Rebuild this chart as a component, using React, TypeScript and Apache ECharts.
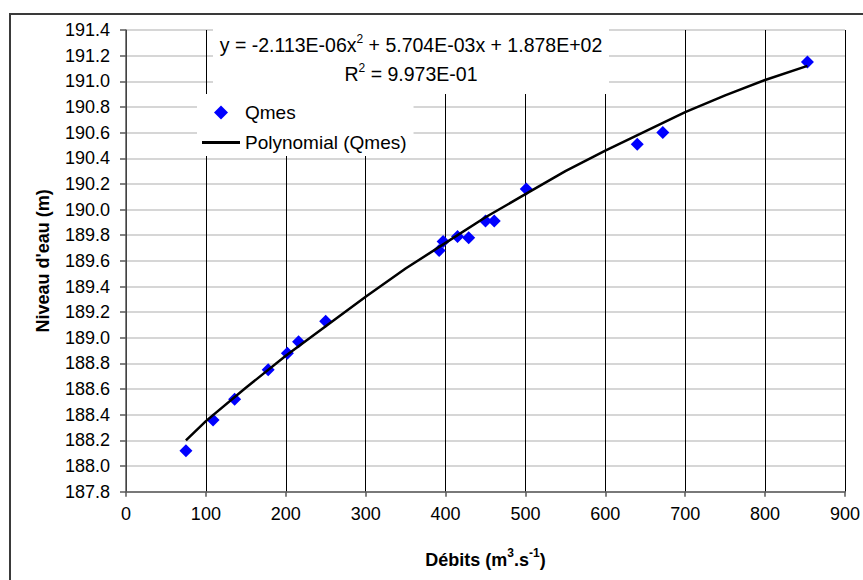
import React, { useEffect, useRef } from "react";
import * as echarts from "echarts";

const qmesX = [75, 109, 136, 178, 202, 216, 250, 392, 397, 415, 429, 450, 461, 501, 640, 672, 853];
const qmesY = [188.12, 188.36, 188.52, 188.75, 188.88, 188.97, 189.13, 189.68, 189.75, 189.79, 189.78, 189.91, 189.91, 190.16, 190.51, 190.6, 191.15];

const trendX = [75, 100, 150, 200, 250, 300, 350, 400, 450, 500, 550, 600, 650, 700, 750, 800, 853];
const trendY = [188.2, 188.35, 188.61, 188.86, 189.09, 189.32, 189.54, 189.74, 189.94, 190.12, 190.3, 190.46, 190.61, 190.76, 190.89, 191.01, 191.12];

const xTicks = { min: 0, max: 900, interval: 100 };
const yTicks = { min: 187.8, max: 191.4, interval: 0.2 };

const equationLine1 = ["y = -2.113E-06x", "2", " + 5.704E-03x + 1.878E+02"];
const equationLine2 = ["R", "2", " = 9.973E-01"];

const FONT = "'Liberation Sans', Arial, sans-serif";

export default function App() {
  const ref = useRef<HTMLDivElement>(null);
  useEffect(() => {
    if (!ref.current) return;
    const chart = echarts.init(ref.current, null, { renderer: "svg" });
    const richEq = {
      n: { fontSize: 19.5, fontFamily: FONT, color: "#000", lineHeight: 22, verticalAlign: "bottom" },
      s: { fontSize: 12, fontFamily: FONT, color: "#000", lineHeight: 22, verticalAlign: "top" },
    };
    chart.setOption({
      animation: false,
      backgroundColor: "#fff",
      textStyle: { fontFamily: FONT },
      grid: { left: 126, right: 12.5, top: 30, bottom: 88.3, containLabel: false },
      xAxis: {
        type: "value",
        min: xTicks.min,
        max: xTicks.max,
        interval: xTicks.interval,
        name: "{b|Débits (m}{sb|3}{b|.s}{sb|-1}{b|)}",
        nameLocation: "middle",
        nameGap: 55,
        nameTextStyle: {
          rich: {
            b: { fontSize: 18, fontWeight: "bold", fontFamily: FONT, color: "#000", lineHeight: 22, verticalAlign: "bottom" },
            sb: { fontSize: 12, fontWeight: "bold", fontFamily: FONT, color: "#000", lineHeight: 22, verticalAlign: "top" },
          },
        },
        axisLine: { show: true, onZero: false, lineStyle: { color: "#5a5a5a", width: 1.5 } },
        axisTick: { show: true, inside: false, length: 5, lineStyle: { color: "#5a5a5a", width: 1.5 } },
        axisLabel: { fontSize: 18, color: "#000", fontFamily: FONT, margin: 13 },
        splitLine: { show: true, lineStyle: { color: "#000", width: 1 } },
      },
      yAxis: {
        type: "value",
        min: yTicks.min,
        max: yTicks.max,
        interval: yTicks.interval,
        name: "Niveau d'eau (m)",
        nameLocation: "middle",
        nameRotate: 90,
        nameGap: 74,
        nameTextStyle: { fontSize: 18, fontWeight: "bold", color: "#000", fontFamily: FONT },
        axisLine: { show: true, onZero: false, lineStyle: { color: "#5a5a5a", width: 1.5 } },
        axisTick: { show: true, inside: false, length: 6, lineStyle: { color: "#5a5a5a", width: 1.5 } },
        axisLabel: {
          fontSize: 18,
          color: "#000",
          fontFamily: FONT,
          margin: 16,
          formatter: (v: number) => v.toFixed(1),
        },
        splitLine: { show: true, lineStyle: { color: "#c8c8c8", width: 1.5 } },
      },
      legend: {
        orient: "vertical",
        left: 197,
        top: 94,
        backgroundColor: "#fff",
        padding: [9, 7, 4, 5],
        itemWidth: 38,
        itemHeight: 14,
        itemGap: 11,
        symbolKeepAspect: true,
        textStyle: { fontSize: 19, color: "#000", fontFamily: FONT },
        data: [
          { name: "Qmes", icon: "path://M7,0L14,7L7,14L0,7Z", itemStyle: { color: "#0000ff", opacity: 1 } },
          { name: "Polynomial (Qmes)", icon: "path://M0,0H38V3H0Z", itemStyle: { color: "#000" } },
        ],
      },
      graphic: {
        elements: [
          {
            type: "rect",
            z: 1,
            shape: { x: 213, y: 24, width: 396, height: 70 },
            style: { fill: "#fff", stroke: "none" },
          },
          {
            type: "text",
            z: 3,
            x: 411,
            y: 44,
            style: {
              text: `{n|${equationLine1[0]}}{s|${equationLine1[1]}}{n|${equationLine1[2]}}`,
              rich: richEq,
              align: "center",
              verticalAlign: "middle",
              textAlign: "center",
              textVerticalAlign: "middle",
            },
          },
          {
            type: "text",
            z: 3,
            x: 411,
            y: 73,
            style: {
              text: `{n|${equationLine2[0]}}{s|${equationLine2[1]}}{n|${equationLine2[2]}}`,
              rich: richEq,
              align: "center",
              verticalAlign: "middle",
              textAlign: "center",
              textVerticalAlign: "middle",
            },
          },
          {
            type: "rect",
            z: 10,
            shape: { x: 10, y: 14, width: 900, height: 600 },
            style: { fill: "none", stroke: "#3a3a3a", lineWidth: 2 },
          },
        ],
      },
      series: [
        {
          name: "Qmes",
          type: "scatter",
          symbol: "diamond",
          symbolSize: 13,
          itemStyle: { color: "#0000ff", opacity: 1 },
          data: qmesX.map((x, i) => [x, qmesY[i]]),
          z: 4,
        },
        {
          name: "Polynomial (Qmes)",
          type: "line",
          showSymbol: false,
          symbol: "none",
          smooth: false,
          lineStyle: { color: "#000", width: 2.5 },
          itemStyle: { color: "#000" },
          data: trendX.map((x, i) => [x, trendY[i]]),
          z: 5,
        },
      ],
    });
    return () => chart.dispose();
  }, []);
  return (
    <div
      ref={ref}
      style={{ position: "fixed", left: 0, top: 0, width: 863, height: 580 }}
    />
  );
}
